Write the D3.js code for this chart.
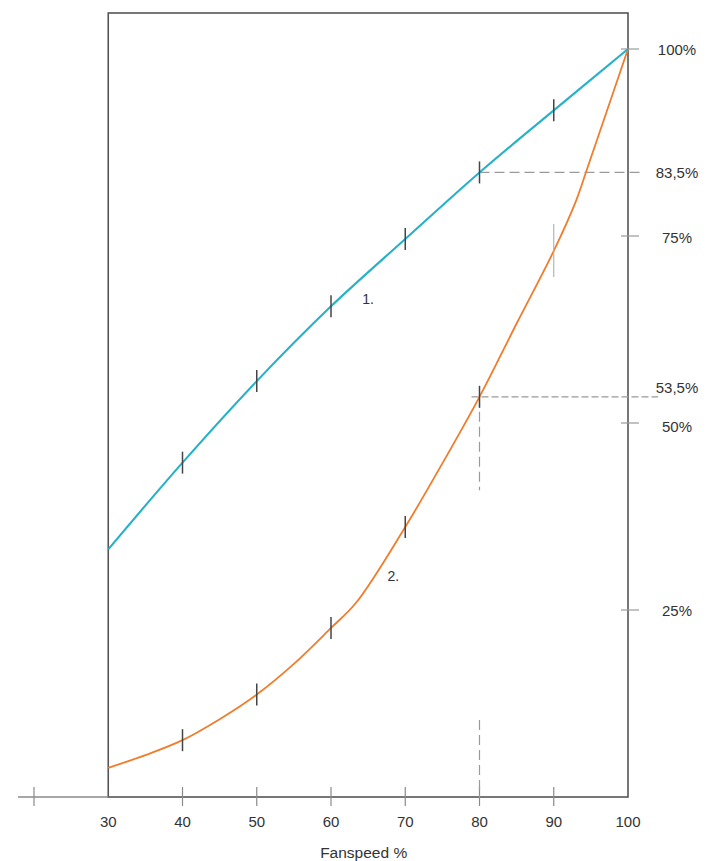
<!DOCTYPE html>
<html>
<head>
<meta charset="utf-8">
<script src="https://cdn.jsdelivr.net/npm/d3@7"></script>
<style>
  html, body { margin: 0; padding: 0; background: #fff; }
  svg { display: block; }
  text { font-family: "Liberation Sans", Arial, Helvetica, sans-serif; fill: #333; }
</style>
</head>
<body>
<svg id="chart" width="712" height="861"></svg>
<script>
// ---------- data ----------
const xTickValues = [20, 30, 40, 50, 60, 70, 80, 90, 100];
const xTickLabels = ["", "30", "40", "50", "60", "70", "80", "90", "100"];
const xAxisTitle = "Fanspeed %";

// curve 1 (blue): marked points
const curve1X = [30, 40, 50, 60, 70, 80, 90, 100];
const curve1Y = [33.1, 44.7, 55.6, 65.6, 74.6, 83.5, 91.8, 100];
const curve1Marks = [40, 50, 60, 70, 80, 90];

// curve 2 (orange): points
const curve2X = [30, 35, 40, 45, 50, 55, 60, 63.4, 70, 75, 80, 85, 90, 93.0, 94.6, 100];
const curve2Y = [3.9, 5.6, 7.6, 10.4, 13.7, 17.8, 22.6, 26.0, 36.1, 44.6, 53.5, 63.3, 73.0, 79.7, 84.3, 100];
const curve2Marks = [40, 50, 60, 70, 80, 90];

// right-hand scale
const rightTickValues = [100, 75, 50, 25];
const rightLabelValues = [100, 83.5, 75, 53.5, 50, 25];
const rightLabelTexts = ["100%", "83,5%", "75%", "53,5%", "50%", "25%"];

// guide lines
const guide1Value = 83.5;      // curve 1 at 80 %
const guide2Value = 53.5;      // curve 2 at 80 %
const guideX = 80;
const guideVertUpper = [53.5, 41];   // dashed vertical segment (y-values)
const guideVertLower = [10.3, 0];

// curve labels
const curveLabels = ["1.", "2."];
const curveLabelX = [65, 68.4];
const curveLabelY = [66.6, 29.6];

// ---------- layout ----------
const svg = d3.select("#chart");
const x = d3.scaleLinear().domain([20, 100]).range([34, 628]);
const y = d3.scaleLinear().domain([0, 100]).range([797, 49]);
const frameTop = 13;
const axisLeft = 18;
const blue = "#27b1c9";
const orange = "#ef7d2c";
const fontSize = 15;

// frame
svg.append("rect")
  .attr("x", x(30)).attr("y", frameTop)
  .attr("width", x(100) - x(30)).attr("height", y(0) - frameTop)
  .attr("fill", "none").attr("stroke", "#555").attr("stroke-width", 1.6);

// x axis (left extension in lighter grey)
svg.append("line")
  .attr("x1", axisLeft).attr("x2", x(30))
  .attr("y1", y(0)).attr("y2", y(0))
  .attr("stroke", "#8a8a8a").attr("stroke-width", 1.3);

// x ticks
const xt = svg.append("g");
xt.selectAll("line").data(xTickValues.filter(v => v !== 30 && v !== 100)).join("line")
  .attr("x1", d => x(d)).attr("x2", d => x(d))
  .attr("y1", y(0) - 10).attr("y2", y(0) + 9)
  .attr("stroke", "#8a8a8a").attr("stroke-width", 1.2);
xt.selectAll("text").data(xTickValues).join("text")
  .attr("x", d => x(d)).attr("y", y(0) + 30)
  .attr("text-anchor", "middle").attr("font-size", fontSize)
  .text((d, i) => xTickLabels[i]);

svg.append("text")
  .attr("x", x(64.4)).attr("y", 858)
  .attr("text-anchor", "middle").attr("font-size", 15.5)
  .text(xAxisTitle);

// right scale ticks
svg.append("g").selectAll("line").data(rightTickValues).join("line")
  .attr("x1", x(100) - 7).attr("x2", x(100) + 11)
  .attr("y1", d => y(d)).attr("y2", d => y(d))
  .attr("stroke", "#9a9a9a").attr("stroke-width", 1.2);

// right labels (small vertical nudges to keep 53,5 / 50 apart)
const nudge = {53.5: -9, 50: 3, 75: 1};
svg.append("g").selectAll("text").data(rightLabelValues).join("text")
  .attr("x", 677)
  .attr("y", d => y(d) + 5.5 + (nudge[d] || 0))
  .attr("text-anchor", "middle").attr("font-size", fontSize)
  .text((d, i) => rightLabelTexts[i]);

// guide lines
const g = svg.append("g").attr("fill", "none").attr("stroke", "#9a9a9a").attr("stroke-width", 1.2);
g.append("line")
  .attr("x1", x(guideX)).attr("x2", x(100) + 14)
  .attr("y1", y(guide1Value)).attr("y2", y(guide1Value))
  .attr("stroke-dasharray", "10,5");
g.append("line")
  .attr("x1", x(guideX) - 8).attr("x2", x(100) + 30)
  .attr("y1", y(guide2Value)).attr("y2", y(guide2Value))
  .attr("stroke-dasharray", "7,3");
[guideVertUpper, guideVertLower].forEach(seg => {
  g.append("line")
    .attr("x1", x(guideX)).attr("x2", x(guideX))
    .attr("y1", y(seg[0])).attr("y2", y(seg[1]))
    .attr("stroke-dasharray", "10,5");
});

// curves
const line = d3.line().x(d => x(d[0])).y(d => y(d[1])).curve(d3.curveCatmullRom.alpha(0.5));
svg.append("path")
  .datum(curve2X.map((v, i) => [v, curve2Y[i]]))
  .attr("d", line).attr("fill", "none")
  .attr("stroke", orange).attr("stroke-width", 1.8);
svg.append("path")
  .datum(curve1X.map((v, i) => [v, curve1Y[i]]))
  .attr("d", line).attr("fill", "none")
  .attr("stroke", blue).attr("stroke-width", 2.1);

// marks on curves
const y1At = v => curve1Y[curve1X.indexOf(v)];
const y2At = v => curve2Y[curve2X.indexOf(v)];
svg.append("g").selectAll("line").data(curve1Marks).join("line")
  .attr("x1", d => x(d)).attr("x2", d => x(d))
  .attr("y1", d => y(y1At(d)) - 11).attr("y2", d => y(y1At(d)) + 11)
  .attr("stroke", "#444").attr("stroke-width", 1.5);
svg.append("g").selectAll("line").data(curve2Marks).join("line")
  .attr("x1", d => x(d)).attr("x2", d => x(d))
  .attr("y1", d => y(y2At(d)) - (d === 90 ? 27 : 11))
  .attr("y2", d => y(y2At(d)) + (d === 90 ? 26 : 11))
  .attr("stroke", d => d === 90 ? "#b0b0b0" : "#444")
  .attr("stroke-width", d => d === 90 ? 1.1 : 1.5);

// curve labels
svg.append("g").selectAll("text").data(curveLabels).join("text")
  .attr("x", (d, i) => x(curveLabelX[i])).attr("y", (d, i) => y(curveLabelY[i]) + 5)
  .attr("text-anchor", "middle").attr("font-size", 14)
  .text(d => d);
</script>
</body>
</html>
